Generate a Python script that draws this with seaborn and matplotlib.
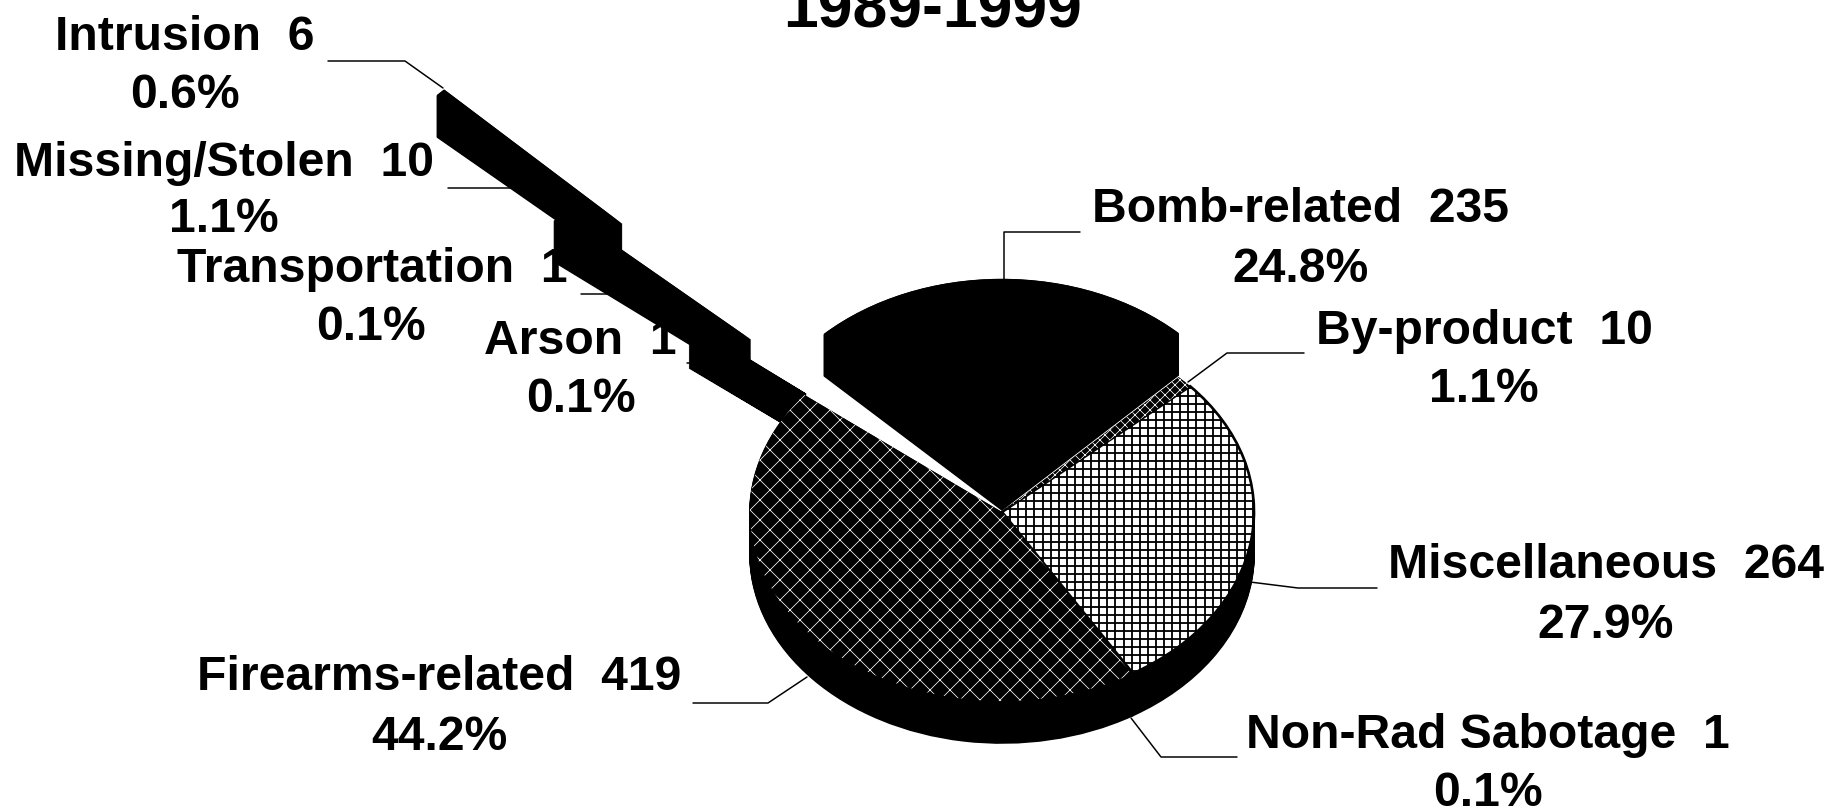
import matplotlib
matplotlib.use("Agg")
import matplotlib.pyplot as plt
from matplotlib.transforms import Affine2D
import numpy as np
import seaborn as sns

# slices, clockwise from the by-product / miscellaneous boundary
categories = ["Miscellaneous", "Non-Rad Sabotage", "Firearms-related", "Arson",
              "Transportation", "Missing/Stolen", "Intrusion", "Bomb-related", "By-product"]
counts = [264, 1, 419, 1, 1, 10, 6, 235, 10]
percents = ["27.9%", "0.1%", "44.2%", "0.1%", "0.1%", "1.1%", "0.6%", "24.8%", "1.1%"]
title = "1989-1999"

explode = [0, 0, 0, 1.0, 1.0, 1.37, 2.12, 0.234, 0]
# extra shift of the pulled-out slices, pixels (right, up)
nudge = [(0, 0), (0, 0), (0, 0), (0, 0), (0, 0), (9, 3), (4, 10), (0, 0), (0, 0)]
# the two thinnest slices are cut short so their tips stop at the rim
radius = [1, 1, 1, 0.58, 0.58, 1, 1, 1, 1]
face_colors = ["white", "black", "black", "black", "black", "black", "black", "black", "black"]
hatch_colors = ["black", "black", "white", "black", "black", "black", "black", "black", "white"]
hatches = [None, None, "xx", None, None, None, None, None, "xxxx"]

# label centres in pixels of the 1845x808 image
name_pos = [(1606, 566), (1488, 736), (439, 678), (580, 342), (372, 270),
            (224, 163), (185, 37), (1301, 210), (1484, 332)]
pct_pos = [(1606, 625), (1488, 793), (439, 737), (581, 399), (371, 328),
           (224, 220), (185, 96), (1301, 269), (1484, 390)]
leaders = [[(1250, 582), (1298, 588), (1377, 588)],
           [(1131, 718), (1161, 757), (1237, 757)],
           [(807, 677), (768, 703), (693, 703)],
           [(687, 363), (706, 363)],
           [(581, 294), (617, 294)],
           [(448, 188), (517, 188)],
           [(328, 61), (405, 61), (443, 88)],
           [(1004, 280), (1004, 232), (1080, 232)],
           [(1188, 382), (1227, 353), (1304, 353)]]

W, H, DPI = 1845, 808, 120
CX, CY, RX, RY = 1002, 512, 252, 189
DEPTH = 42
START = 41.7
GRID = 8.1

sns.set_theme(style="white")
plt.rcParams["font.family"] = ["Liberation Sans", "DejaVu Sans"]
plt.rcParams["hatch.linewidth"] = 0.45

fig = plt.figure(figsize=(W / DPI, H / DPI), dpi=DPI, facecolor="white")
ax = fig.add_axes([0, 0, 1, 1])


def draw_pie(drop=0, **kw):
    wedges, _ = ax.pie(counts, explode=explode, startangle=START, counterclock=False,
                       center=(0, -drop / RY), **kw)
    for w, (dx, dy), r in zip(wedges, nudge, radius):
        x, y = w.center
        w.set_center((x + dx / RX, y + dy / RY))
        w.set_radius(r)
    return wedges


# side of the pie: the same slices stacked downwards in black
for d in np.arange(DEPTH, 0, -1):
    draw_pie(d, colors=["black"] * len(counts),
             wedgeprops={"linewidth": 1, "edgecolor": "black"})

# top faces
wedges = draw_pie(colors=face_colors, hatch=hatches, wedgeprops={"linewidth": 0})
for w, c in zip(wedges, hatch_colors):
    w.set_edgecolor(c)
wedges[0].set_linewidth(1.6)

ax.set_aspect("auto")
ax.set_xlim(-CX / RX, (W - CX) / RX)
ax.set_ylim(-(H - CY) / RY, CY / RY)
ax.axis("off")

# pixel coordinates, y downwards
px = Affine2D().scale(1, -1).translate(0, H)

# fine grid on the miscellaneous slice
vl = ax.vlines(np.arange(CX, CX + RX, GRID), CY - RY, CY + RY, transform=px,
               colors="black", lw=1.1, zorder=1.5)
hl = ax.hlines(np.arange(CY - RY, CY + RY, GRID), CX, CX + RX, transform=px,
               colors="black", lw=1.1, zorder=1.5)
vl.set_clip_path(wedges[0])
hl.set_clip_path(wedges[0])

for name, n, pct, p1, p2, line in zip(categories, counts, percents, name_pos, pct_pos, leaders):
    ax.text(*p1, f"{name}  {n}", transform=px, ha="center", va="center",
            fontsize=28.9, fontweight="bold", color="black", zorder=0.5)
    ax.text(*p2, pct, transform=px, ha="center", va="center",
            fontsize=28.9, fontweight="bold", color="black", zorder=0.5)
    xs, ys = zip(*line)
    ax.plot(xs, ys, transform=px, color="black", lw=0.9, zorder=0.5)

ax.text(933, 28, title, transform=px, ha="center", va="baseline",
        fontsize=37.5, fontweight="bold", color="black", zorder=0.5)

fig.savefig("out.png", dpi=DPI)
